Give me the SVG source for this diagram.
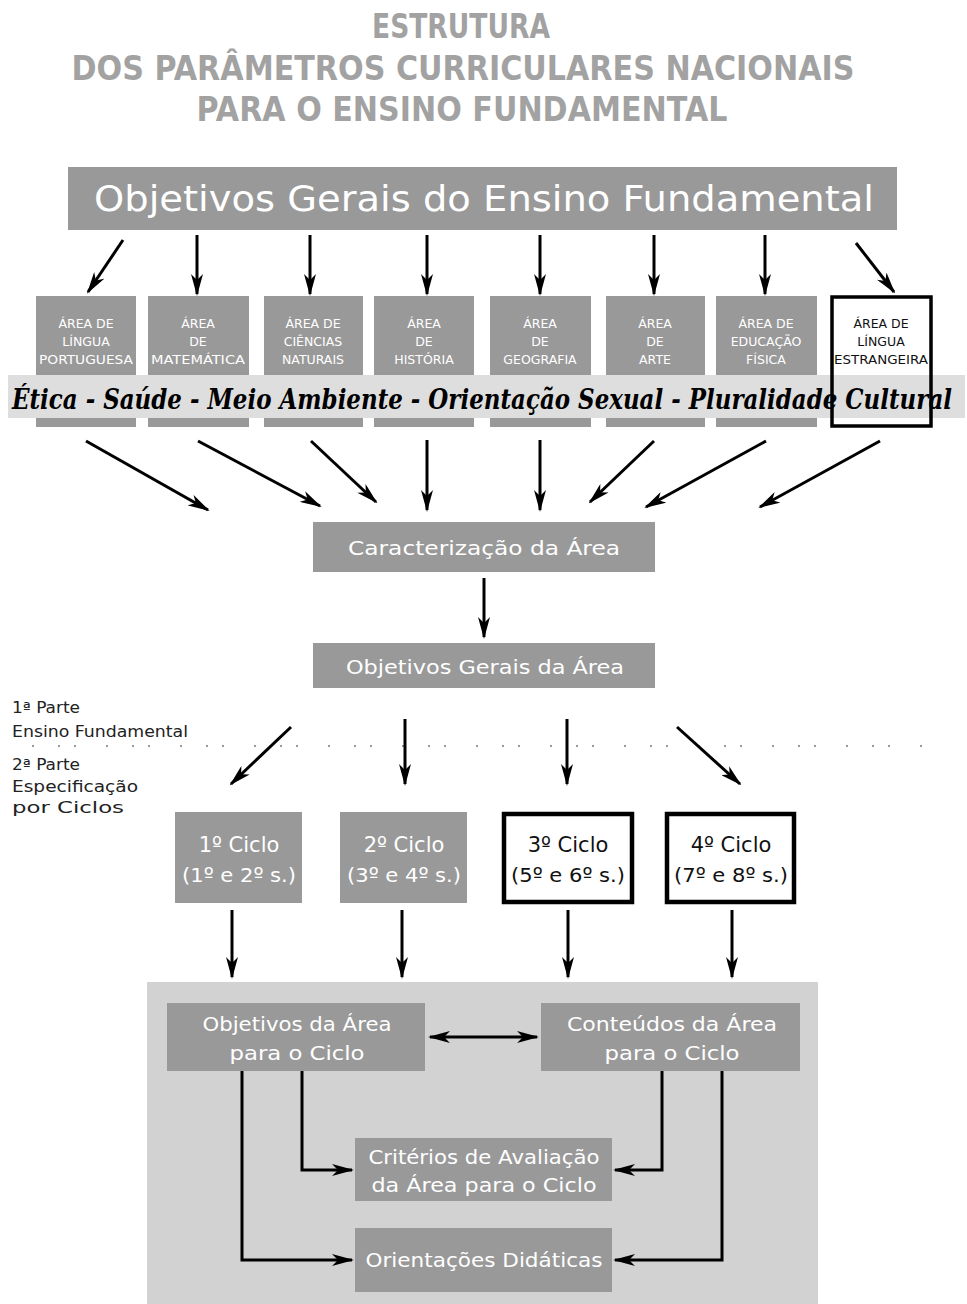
<svg xmlns="http://www.w3.org/2000/svg" width="967" height="1304" viewBox="0 0 967 1304">
<style>
.title{font-family:"DejaVu Sans",sans-serif;font-weight:bold;font-size:33px;fill:#a2a2a2;text-anchor:middle}
.box{fill:#999999}
.wbox{fill:#ffffff;stroke:#000;stroke-width:4.5}
.t{font-family:"DejaVu Sans","Liberation Sans",sans-serif;fill:#ffffff;text-anchor:middle}
.tb{font-family:"DejaVu Sans","Liberation Sans",sans-serif;fill:#111;text-anchor:middle}
.area{font-size:12.5px}
.lbl{font-family:"DejaVu Sans","Liberation Sans",sans-serif;font-size:16px;fill:#222}
.ar{stroke:#000;stroke-width:3;fill:none;marker-end:url(#ah)}
</style>
<defs>
<marker id="ah" viewBox="0 0 22 12" markerWidth="22" markerHeight="12" refX="20" refY="6" orient="auto-start-reverse" markerUnits="userSpaceOnUse">
<path d="M0,0 L22,6 L0,12 L6,6 z" fill="#000"/>
</marker>
</defs>
<rect width="967" height="1304" fill="#fff"/>

<g id="title">
<text class="title" x="461" y="38" textLength="178" lengthAdjust="spacingAndGlyphs">ESTRUTURA</text>
<text class="title" x="463" y="80" textLength="783" lengthAdjust="spacingAndGlyphs">DOS PARÂMETROS CURRICULARES NACIONAIS</text>
<text class="title" x="462" y="121" textLength="531" lengthAdjust="spacingAndGlyphs">PARA O ENSINO FUNDAMENTAL</text>
</g>

<g id="objetivos-gerais-ef">
<rect class="box" x="68" y="167" width="829" height="63"/>
<text class="t" x="484" y="211" font-size="36" textLength="780" lengthAdjust="spacingAndGlyphs">Objetivos Gerais do Ensino Fundamental</text>
</g>

<g id="areas">
<rect class="box" x="36" y="296" width="100" height="131"/>
<rect class="box" x="148" y="296" width="101" height="131"/>
<rect class="box" x="264" y="296" width="99" height="131"/>
<rect class="box" x="374" y="296" width="100" height="131"/>
<rect class="box" x="490" y="296" width="101" height="131"/>
<rect class="box" x="606" y="296" width="99" height="131"/>
<rect class="box" x="716" y="296" width="101" height="131"/>
<rect x="832" y="297" width="99" height="129" fill="#fff"/>
</g>

<g id="temas-transversais">
<rect x="8" y="375" width="957" height="43" fill="#dedede"/>
<text x="12" y="409" font-family="'DejaVu Serif','Liberation Serif',serif" font-style="italic" font-weight="bold" font-size="27" fill="#000" textLength="940" lengthAdjust="spacingAndGlyphs">Ética - Saúde - Meio Ambiente - Orientação Sexual - Pluralidade Cultural</text>
</g>

<g id="area-lingua-estrangeira">
<rect x="832" y="297" width="99" height="129" fill="none" stroke="#000" stroke-width="3.5"/>
<text class="tb area" x="881" y="328">ÁREA DE</text>
<text class="tb area" x="881" y="346">LÍNGUA</text>
<text class="tb area" x="881" y="364" textLength="94" lengthAdjust="spacingAndGlyphs">ESTRANGEIRA</text>
</g>
<g id="area-portugues">
<text class="t area" x="86" y="328">ÁREA DE</text>
<text class="t area" x="86" y="346">LÍNGUA</text>
<text class="t area" x="86" y="364" textLength="94" lengthAdjust="spacingAndGlyphs">PORTUGUESA</text>
</g>
<g id="area-matematica">
<text class="t area" x="198" y="328">ÁREA</text>
<text class="t area" x="198" y="346">DE</text>
<text class="t area" x="198" y="364" textLength="94" lengthAdjust="spacingAndGlyphs">MATEMÁTICA</text>
</g>
<g id="area-ciencias">
<text class="t area" x="313" y="328">ÁREA DE</text>
<text class="t area" x="313" y="346">CIÊNCIAS</text>
<text class="t area" x="313" y="364">NATURAIS</text>
</g>
<g id="area-historia">
<text class="t area" x="424" y="328">ÁREA</text>
<text class="t area" x="424" y="346">DE</text>
<text class="t area" x="424" y="364">HISTÓRIA</text>
</g>
<g id="area-geografia">
<text class="t area" x="540" y="328">ÁREA</text>
<text class="t area" x="540" y="346">DE</text>
<text class="t area" x="540" y="364">GEOGRAFIA</text>
</g>
<g id="area-arte">
<text class="t area" x="655" y="328">ÁREA</text>
<text class="t area" x="655" y="346">DE</text>
<text class="t area" x="655" y="364">ARTE</text>
</g>
<g id="area-educacao-fisica">
<text class="t area" x="766" y="328">ÁREA DE</text>
<text class="t area" x="766" y="346">EDUCAÇÃO</text>
<text class="t area" x="766" y="364">FÍSICA</text>
</g>

<g id="caracterizacao">
<rect class="box" x="313" y="522" width="342" height="50"/>
<text class="t" x="484" y="555" font-size="20" textLength="272" lengthAdjust="spacingAndGlyphs">Caracterização da Área</text>
</g>

<g id="objetivos-gerais-area">
<rect class="box" x="313" y="643" width="342" height="45"/>
<text class="t" x="485" y="674" font-size="20" textLength="278" lengthAdjust="spacingAndGlyphs">Objetivos Gerais da Área</text>
</g>

<g id="partes">
<text class="lbl" x="12" y="713" textLength="68" lengthAdjust="spacingAndGlyphs">1ª Parte</text>
<text class="lbl" x="12" y="737" textLength="176" lengthAdjust="spacingAndGlyphs">Ensino Fundamental</text>
<line x1="32" y1="746" x2="945" y2="746" stroke="#9a9a9a" stroke-width="2" stroke-dasharray="2 24 2 14 2 30"/>
<text class="lbl" x="12" y="770" textLength="68" lengthAdjust="spacingAndGlyphs">2ª Parte</text>
<text class="lbl" x="12" y="792" textLength="126" lengthAdjust="spacingAndGlyphs">Especificação</text>
<text class="lbl" x="12" y="813" textLength="112" lengthAdjust="spacingAndGlyphs">por Ciclos</text>
</g>

<g id="ciclo-1">
<rect class="box" x="175" y="812" width="127" height="91"/>
<text class="t" x="239" y="852" font-size="21">1º Ciclo</text>
<text class="t" x="239" y="882" font-size="20" textLength="114" lengthAdjust="spacingAndGlyphs">(1º e 2º s.)</text>
</g>
<g id="ciclo-2">
<rect class="box" x="340" y="812" width="127" height="91"/>
<text class="t" x="404" y="852" font-size="21">2º Ciclo</text>
<text class="t" x="404" y="882" font-size="20" textLength="114" lengthAdjust="spacingAndGlyphs">(3º e 4º s.)</text>
</g>
<g id="ciclo-3">
<rect class="wbox" x="504" y="814" width="128" height="88"/>
<text class="tb" x="568" y="852" font-size="21">3º Ciclo</text>
<text class="tb" x="568" y="882" font-size="20" textLength="114" lengthAdjust="spacingAndGlyphs">(5º e 6º s.)</text>
</g>
<g id="ciclo-4">
<rect class="wbox" x="667" y="814" width="127" height="88"/>
<text class="tb" x="731" y="852" font-size="21">4º Ciclo</text>
<text class="tb" x="731" y="882" font-size="20" textLength="114" lengthAdjust="spacingAndGlyphs">(7º e 8º s.)</text>
</g>

<g id="painel-ciclo">
<rect x="147" y="982" width="671" height="322" fill="#d2d2d2"/>
</g>
<g id="objetivos-area-ciclo">
<rect class="box" x="167" y="1003" width="258" height="68"/>
<text class="t" x="297" y="1031" font-size="19.5" textLength="189" lengthAdjust="spacingAndGlyphs">Objetivos da Área</text>
<text class="t" x="297" y="1060" font-size="19.5" textLength="135" lengthAdjust="spacingAndGlyphs">para o Ciclo</text>
</g>
<g id="conteudos-area-ciclo">
<rect class="box" x="541" y="1003" width="259" height="68"/>
<text class="t" x="672" y="1031" font-size="19.5" textLength="210" lengthAdjust="spacingAndGlyphs">Conteúdos da Área</text>
<text class="t" x="672" y="1060" font-size="19.5" textLength="135" lengthAdjust="spacingAndGlyphs">para o Ciclo</text>
</g>
<g id="criterios-avaliacao">
<rect class="box" x="355" y="1138" width="257" height="63"/>
<text class="t" x="484" y="1164" font-size="19.5" textLength="231" lengthAdjust="spacingAndGlyphs">Critérios de Avaliação</text>
<text class="t" x="484" y="1192" font-size="19.5" textLength="225" lengthAdjust="spacingAndGlyphs">da Área para o Ciclo</text>
</g>
<g id="orientacoes-didaticas">
<rect class="box" x="355" y="1228" width="257" height="64"/>
<text class="t" x="484" y="1267" font-size="19.5" textLength="237" lengthAdjust="spacingAndGlyphs">Orientações Didáticas</text>
</g>

<g id="connectors">
<line class="ar" x1="123" y1="240" x2="88" y2="292"/>
<line class="ar" x1="197" y1="235" x2="197" y2="294"/>
<line class="ar" x1="310" y1="235" x2="310" y2="294"/>
<line class="ar" x1="427" y1="235" x2="427" y2="294"/>
<line class="ar" x1="540" y1="235" x2="540" y2="294"/>
<line class="ar" x1="654" y1="235" x2="654" y2="294"/>
<line class="ar" x1="765" y1="235" x2="765" y2="294"/>
<line class="ar" x1="856" y1="243" x2="894" y2="292"/>

<line class="ar" x1="86" y1="441" x2="208" y2="510"/>
<line class="ar" x1="198" y1="441" x2="320" y2="506"/>
<line class="ar" x1="311" y1="441" x2="376" y2="502"/>
<line class="ar" x1="427" y1="440" x2="427" y2="510"/>
<line class="ar" x1="540" y1="440" x2="540" y2="510"/>
<line class="ar" x1="654" y1="441" x2="590" y2="502"/>
<line class="ar" x1="766" y1="441" x2="646" y2="507"/>
<line class="ar" x1="880" y1="441" x2="760" y2="507"/>

<line class="ar" x1="484" y1="578" x2="484" y2="637"/>

<line class="ar" x1="291" y1="727" x2="231" y2="784"/>
<line class="ar" x1="405" y1="719" x2="405" y2="784"/>
<line class="ar" x1="567" y1="719" x2="567" y2="784"/>
<line class="ar" x1="677" y1="727" x2="740" y2="784"/>

<line class="ar" x1="232" y1="910" x2="232" y2="977"/>
<line class="ar" x1="402" y1="910" x2="402" y2="977"/>
<line class="ar" x1="568" y1="910" x2="568" y2="977"/>
<line class="ar" x1="732" y1="910" x2="732" y2="977"/>

<line class="ar" x1="430" y1="1037" x2="537" y2="1037" marker-start="url(#ah)"/>
<path class="ar" d="M242,1071 V1260 H352"/>
<path class="ar" d="M302,1071 V1170 H352"/>
<path class="ar" d="M662,1071 V1170 H615"/>
<path class="ar" d="M722,1071 V1260 H615"/>
</g>
</svg>
